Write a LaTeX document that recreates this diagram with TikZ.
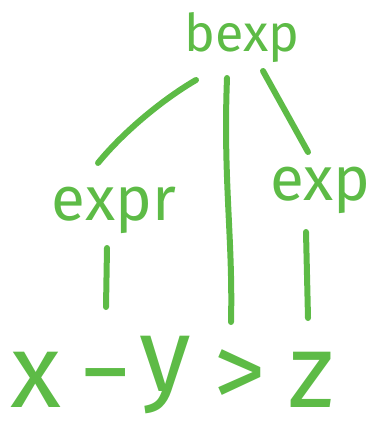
\documentclass[tikz,border=0pt]{standalone}
\usepackage{fontspec}
\setmainfont{Fira Sans}
\definecolor{hand}{HTML}{5DBB46}
\tikzset{
  word/.style={text=hand, inner sep=0pt, font=\fontsize{52}{52}\selectfont},
  bigword/.style={text=hand, inner sep=0pt, font=\fontsize{62}{62}\selectfont},
  token/.style={text=hand, inner sep=0pt, anchor=base, font=\fontsize{105}{105}\selectfont},
  stroke/.style={draw=hand, line width=6pt, line cap=round}
}
\begin{document}
\begin{tikzpicture}[x=1pt,y=1pt]
\useasboundingbox (0,0) rectangle (367,-422);
\node[word] (bexp) at (242,-38) {bexp};
\node[bigword] (expr) at (114,-210) {expr};
\node[bigword, anchor=west] (exp) at (270,-190) {exp};
\node[token] (x) at (36,-407) {x};
\node[token] (minus) at (106,-407) {−};
\node[token] (y) at (165,-391) {y};
\node[token] (gt) at (240,-407) {>};
\node[token] (z) at (311,-407) {z};
% branches
\draw[stroke] ([shift={(-46,-42)}]bexp.center) .. controls ([shift={(-77,-60)}]bexp.center) and ([shift={(11,80)}]expr.center) .. ([shift={(-16,47)}]expr.center);
\draw[stroke] ([shift={(-15,-40)}]bexp.center) .. controls ([shift={(-19,-142)}]bexp.center) and ([shift={(-7,168)}]gt.base) .. ([shift={(-9,85)}]gt.base);
\draw[stroke] ([shift={(21,-33)}]bexp.center) -- ([shift={(38,38)}]exp.west);
\draw[stroke] ([shift={(-7,-38)}]expr.center) -- ([shift={(0,100)}]minus.base);
\draw[stroke] ([shift={(36,-42)}]exp.west) -- ([shift={(-3,89)}]z.base);
\end{tikzpicture}
\end{document}
